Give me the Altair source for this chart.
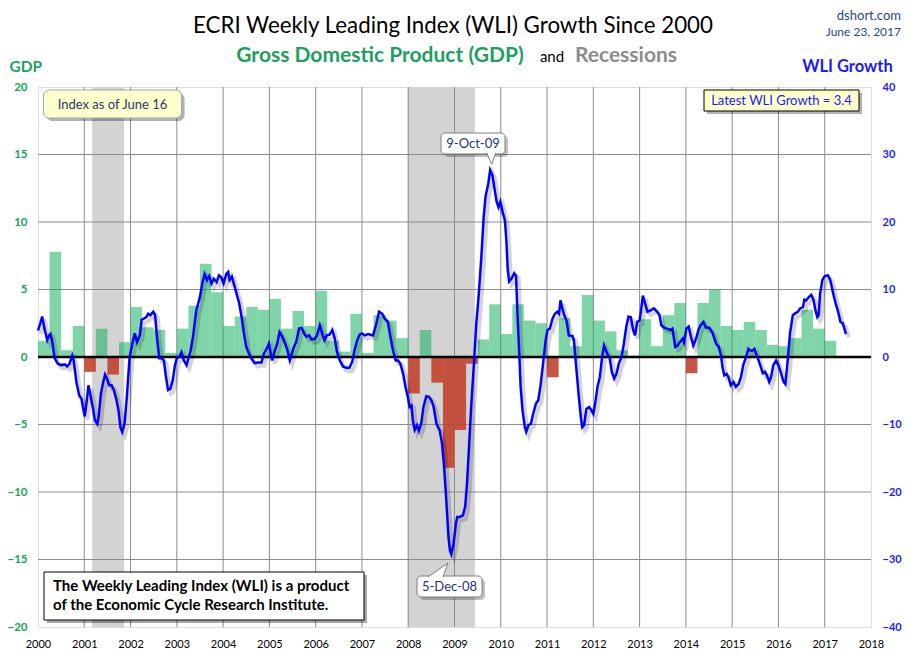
import altair as alt
import pandas as pd

FONT = "Lato"

# ---------------- data ----------------
# Quarterly real GDP growth (annualised %), 2000Q1 .. 2017Q1
gdp_growth = [
    1.2, 7.8, 0.5, 2.3,
    -1.1, 2.1, -1.3, 1.1,
    3.7, 2.2, 2.0, 0.3,
    2.1, 3.8, 6.9, 4.8,
    2.3, 3.0, 3.7, 3.5,
    4.3, 2.1, 3.4, 2.3,
    4.9, 1.2, 0.4, 3.2,
    0.3, 3.1, 2.7, 1.4,
    -2.7, 2.0, -1.9, -8.2,
    -5.4, -0.5, 1.3, 3.9,
    1.7, 3.9, 2.7, 2.5,
    -1.5, 2.9, 0.8, 4.6,
    2.7, 1.9, 0.5, 0.1,
    2.8, 0.8, 3.1, 4.0,
    -1.2, 4.0, 5.0, 2.3,
    2.0, 2.6, 2.0, 0.9,
    0.8, 1.4, 3.5, 2.1,
    1.2,
]
gdp_first_year = 2000

# ECRI WLI growth (decimal year, value)
wli_year = [
    2000.00, 2000.05, 2000.09, 2000.14, 2000.20, 2000.24, 2000.27, 2000.31, 2000.36, 2000.43,
    2000.50, 2000.58, 2000.63, 2000.68, 2000.74, 2000.77, 2000.83, 2000.89, 2000.94, 2000.97,
    2001.01, 2001.05, 2001.09, 2001.14, 2001.19, 2001.23, 2001.28, 2001.31, 2001.36, 2001.41,
    2001.45, 2001.49, 2001.54, 2001.59, 2001.64, 2001.69, 2001.74, 2001.78, 2001.82, 2001.87,
    2001.92, 2001.98, 2002.04, 2002.09, 2002.14, 2002.20, 2002.24, 2002.29, 2002.34, 2002.38,
    2002.43, 2002.49, 2002.53, 2002.57, 2002.62, 2002.67, 2002.72, 2002.76, 2002.81, 2002.86,
    2002.91, 2002.96, 2003.00, 2003.05, 2003.10, 2003.15, 2003.21, 2003.26, 2003.30, 2003.35,
    2003.42, 2003.50, 2003.55, 2003.60, 2003.65, 2003.70, 2003.75, 2003.80, 2003.86, 2003.91,
    2003.96, 2004.01, 2004.07, 2004.11, 2004.14, 2004.19, 2004.23, 2004.29, 2004.35, 2004.40,
    2004.45, 2004.50, 2004.56, 2004.61, 2004.68, 2004.76, 2004.83, 2004.88, 2004.94, 2004.99,
    2005.03, 2005.06, 2005.12, 2005.17, 2005.22, 2005.28, 2005.34, 2005.39, 2005.44, 2005.48,
    2005.53, 2005.58, 2005.64, 2005.70, 2005.75, 2005.80, 2005.86, 2005.91, 2005.98, 2006.03,
    2006.09, 2006.14, 2006.19, 2006.24, 2006.30, 2006.36, 2006.41, 2006.46, 2006.52, 2006.59,
    2006.66, 2006.73, 2006.79, 2006.84, 2006.90, 2006.95, 2007.00, 2007.06, 2007.13, 2007.24,
    2007.31, 2007.37, 2007.44, 2007.49, 2007.56, 2007.61, 2007.67, 2007.73, 2007.78, 2007.83,
    2007.89, 2007.94, 2007.99, 2008.03, 2008.07, 2008.10, 2008.14, 2008.19, 2008.23, 2008.28,
    2008.33, 2008.39, 2008.45, 2008.50, 2008.55, 2008.61, 2008.68, 2008.73, 2008.77, 2008.81,
    2008.84, 2008.87, 2008.90, 2008.93, 2008.98, 2009.03, 2009.06, 2009.11, 2009.18, 2009.23,
    2009.27, 2009.31, 2009.36, 2009.42, 2009.47, 2009.52, 2009.58, 2009.63, 2009.67, 2009.73,
    2009.77, 2009.82, 2009.87, 2009.91, 2009.95, 2009.99, 2010.04, 2010.09, 2010.12, 2010.15,
    2010.18, 2010.24, 2010.29, 2010.33, 2010.36, 2010.40, 2010.43, 2010.47, 2010.52, 2010.55,
    2010.60, 2010.65, 2010.70, 2010.76, 2010.81, 2010.86, 2010.91, 2010.97, 2011.01, 2011.06,
    2011.12, 2011.17, 2011.22, 2011.26, 2011.29, 2011.33, 2011.37, 2011.42, 2011.47, 2011.55,
    2011.58, 2011.63, 2011.68, 2011.73, 2011.76, 2011.80, 2011.85, 2011.91, 2011.96, 2012.00,
    2012.04, 2012.09, 2012.14, 2012.19, 2012.23, 2012.27, 2012.32, 2012.35, 2012.40, 2012.45,
    2012.50, 2012.55, 2012.61, 2012.66, 2012.71, 2012.76, 2012.81, 2012.86, 2012.90, 2012.95,
    2013.00, 2013.04, 2013.07, 2013.12, 2013.17, 2013.24, 2013.31, 2013.38, 2013.43, 2013.47,
    2013.52, 2013.59, 2013.67, 2013.71, 2013.77, 2013.82, 2013.87, 2013.93, 2013.96, 2014.01,
    2014.06, 2014.11, 2014.16, 2014.22, 2014.27, 2014.32, 2014.38, 2014.43, 2014.51, 2014.58,
    2014.65, 2014.71, 2014.76, 2014.79, 2014.83, 2014.88, 2014.92, 2014.97, 2015.03, 2015.08,
    2015.14, 2015.19, 2015.24, 2015.30, 2015.35, 2015.38, 2015.43, 2015.48, 2015.53, 2015.57,
    2015.62, 2015.66, 2015.71, 2015.75, 2015.80, 2015.84, 2015.89, 2015.95, 2016.00, 2016.06,
    2016.11, 2016.15, 2016.20, 2016.25, 2016.31, 2016.37, 2016.42, 2016.47, 2016.53, 2016.56,
    2016.60, 2016.66, 2016.71, 2016.76, 2016.80, 2016.84, 2016.87, 2016.90, 2016.95, 2017.00,
    2017.07, 2017.12, 2017.18, 2017.23, 2017.29, 2017.34, 2017.39, 2017.46,
]
wli_value = [
    3.9, 5.0, 6.0, 4.2, 2.5, 3.2, 3.4, 2.2, -0.2, -1.0,
    -1.2, -1.1, -1.4, -1.0, 0.2, -0.5, -3.7, -5.7, -6.2, -7.4,
    -8.8, -6.7, -4.2, -5.9, -7.7, -9.4, -9.9, -8.9, -5.4, -3.7,
    -2.6, -3.2, -4.2, -4.2, -4.9, -6.2, -7.9, -10.4, -11.1, -9.9,
    -5.9, 0.0, 2.0, 3.5, 2.2, 3.2, 5.5, 5.7, 5.9, 6.4,
    6.2, 6.7, 6.2, 3.0, -0.2, -0.2, -0.5, -2.7, -4.9, -4.7,
    -3.5, -1.2, -0.2, 0.0, 0.7, -0.5, -1.2, 0.0, 1.0, 3.0,
    6.9, 8.9, 10.9, 12.3, 11.4, 12.0, 10.9, 11.6, 11.1, 12.1,
    11.8, 10.9, 12.3, 12.6, 11.4, 11.9, 10.9, 9.4, 7.9, 5.9,
    3.5, 1.5, 0.5, -0.2, -0.9, -0.8, -0.8, 0.5, 1.2, 2.0,
    0.5, -0.5, 1.0, 2.0, 3.7, 3.0, 2.0, 1.0, -0.5, 0.4,
    1.5, 2.2, 4.2, 4.3, 3.5, 3.0, 3.2, 2.6, 2.7, 3.2,
    4.7, 3.5, 2.5, 3.2, 3.3, 4.0, 2.8, 0.8, -0.5, -1.4,
    -1.6, -1.6, -0.7, 1.0, 2.5, 3.3, 3.5, 3.2, 3.4, 3.2,
    4.9, 6.7, 6.4, 5.7, 5.2, 3.2, 1.0, -0.5, -0.5, -1.0,
    -2.5, -4.4, -5.9, -7.4, -7.2, -9.4, -10.8, -10.1, -10.9, -9.9,
    -7.4, -5.8, -5.9, -6.4, -7.4, -9.9, -10.9, -12.8, -15.8, -19.8,
    -23.2, -26.7, -28.6, -29.2, -27.7, -24.7, -23.7, -23.7, -23.5, -22.2,
    -18.8, -13.8, -7.4, -1.0, 4.9, 8.9, 14.8, 20.7, 23.7, 25.7,
    27.7, 26.9, 24.7, 23.0, 22.2, 23.0, 21.5, 20.2, 17.3, 13.0,
    11.2, 11.7, 12.4, 12.0, 6.5, 0.5, -4.5, -7.9, -10.4, -11.1,
    -10.1, -9.9, -8.4, -6.9, -6.4, -4.2, -1.2, 2.5, 4.0, 4.2,
    5.7, 6.4, 6.7, 6.4, 8.4, 7.2, 6.2, 5.4, 3.2, 3.1,
    2.5, -1.5, -5.4, -8.9, -10.4, -10.1, -7.7, -7.4, -7.9, -8.4,
    -6.9, -4.4, -3.0, 0.0, 1.7, 1.0, 0.2, 0.0, -2.2, -3.2,
    -2.5, -1.0, 0.0, 2.0, 4.4, 6.0, 5.9, 4.0, 3.2, 5.2,
    5.4, 7.4, 9.1, 7.9, 6.7, 6.9, 7.2, 6.7, 6.2, 4.7,
    4.4, 4.2, 4.0, 4.2, 1.5, 1.7, 2.2, 2.7, 2.2, 4.2,
    4.5, 3.0, 1.7, 2.7, 4.0, 4.7, 5.2, 4.4, 4.3, 3.5,
    2.0, 1.5, 0.2, -1.5, -2.7, -2.5, -3.0, -4.2, -3.7, -4.4,
    -4.0, -3.0, -1.2, 0.0, 1.2, 1.0, 0.9, 1.2, 0.2, -0.5,
    -1.5, -2.4, -2.2, -2.7, -3.7, -3.0, -1.2, -0.5, -1.2, -2.5,
    -3.7, -4.0, -0.5, 3.5, 6.2, 6.5, 6.7, 7.2, 7.4, 8.5,
    8.4, 8.9, 9.2, 8.4, 6.9, 5.9, 6.2, 9.4, 11.4, 12.0,
    12.1, 11.4, 9.5, 8.1, 6.7, 5.2, 5.0, 3.4,
]

# NBER recessions (decimal years)
rec_start = [2001.17, 2007.99]
rec_end = [2001.86, 2009.44]

# axis ticks
year_ticks = list(range(2000, 2019))
gdp_ticks = [-20, -15, -10, -5, 0, 5, 10, 15, 20]
wli_ticks = [-40, -30, -20, -10, 0, 10, 20, 30, 40]

# ---------------- tables ----------------
gdp_df = pd.DataFrame({"gdp": gdp_growth})
gdp_df["qstart"] = gdp_first_year + gdp_df.index * 0.25
gdp_df["qend"] = gdp_df["qstart"] + 0.25
wli_df = pd.DataFrame({"year": wli_year, "wli": wli_value})
rec_df = pd.DataFrame({"start": rec_start, "end": rec_end})
years_df = pd.DataFrame({"year": year_ticks})
gdpt_df = pd.DataFrame({"v": gdp_ticks})
one = pd.DataFrame({"k": [0]})

W, H = 833, 540
GRID = "#8c8c8c"
GREEN_TXT = "#1f9f5f"
TICK_GREEN = "#12a552"
BLUE = "#1a1aff"
NAVY = "#1f2f86"

xscale = alt.Scale(domain=[2000, 2018], nice=False, zero=False)
xaxis = alt.Axis(values=year_ticks, format="d", grid=False, ticks=False, domain=False,
                 labelFontSize=11, labelColor="#000000", labelPadding=11,
                 labelFlush=False, labelOverlap=False, title=None)
gdp_scale = alt.Scale(domain=[-20, 20], nice=False, zero=False)
gdp_axis = alt.Axis(orient="left", values=gdp_ticks, grid=False, ticks=False, domain=False,
                    labelColor=TICK_GREEN, labelFontWeight="bold", labelFontSize=11.5,
                    labelPadding=11, title=None)
wli_scale = alt.Scale(domain=[-40, 40], nice=False, zero=False)
wli_axis = alt.Axis(orient="right", values=wli_ticks, grid=False, ticks=False, domain=False,
                    labelColor=BLUE, labelFontWeight="bold", labelFontSize=11,
                    labelPadding=11, title=None)

X = lambda f: alt.X(f, scale=xscale, axis=xaxis)
YG = lambda f: alt.Y(f, scale=gdp_scale, axis=gdp_axis)
YW = lambda f: alt.Y(f, scale=wli_scale, axis=wli_axis)

# ---------------- GDP side ----------------
rec = alt.Chart(rec_df).mark_rect(color="#d3d3d3").encode(
    x=X("start:Q"), x2="end:Q", y=alt.value(0), y2=alt.value(H))
vgrid = alt.Chart(years_df).transform_filter(
    "datum.year > 2000 && datum.year < 2018").mark_rule(
    color=GRID, strokeWidth=1).encode(x=X("year:Q"))
hgrid = alt.Chart(gdpt_df).transform_filter(
    "datum.v != 0 && abs(datum.v) < 20").mark_rule(
    color=GRID, strokeWidth=1).encode(y=YG("v:Q"))
bars_pos = alt.Chart(gdp_df).transform_filter("datum.gdp >= 0").transform_calculate(
    base="0").mark_rect(color="#0bae58", opacity=0.52).encode(
    x=X("qstart:Q"), x2="qend:Q", y=YG("gdp:Q"), y2="base:Q")
bars_neg = alt.Chart(gdp_df).transform_filter("datum.gdp < 0").transform_calculate(
    base="0").mark_rect(color="#c2412c", opacity=0.9).encode(
    x=X("qstart:Q"), x2="qend:Q", y=YG("gdp:Q"), y2="base:Q")
zero = alt.Chart(gdpt_df).transform_filter("datum.v == 0").mark_rule(
    color="#000000", strokeWidth=2.6).encode(y=YG("v:Q"))
gdp_layer = alt.layer(rec, vgrid, hgrid, bars_pos, bars_neg, zero)

# ---------------- WLI side ----------------
shadow = alt.Chart(wli_df).transform_calculate(
    xs="datum.year + 0.06", ys="datum.wli - 0.5").mark_line(
    color="#000000", opacity=0.17, strokeWidth=4).encode(x=X("xs:Q"), y=YW("ys:Q"))
line = alt.Chart(wli_df).mark_line(color="#0000ff", strokeWidth=2.5).encode(
    x=X("year:Q"), y=YW("wli:Q"))
wli_layer = alt.layer(shadow, line)


# ---------------- annotations ----------------
def txt(s, x, y, size, color, weight="normal", align="center", baseline="middle"):
    return alt.Chart(one).mark_text(text=s, font=FONT, fontSize=size, color=color,
                                    fontWeight=weight, align=align, baseline=baseline
                                    ).encode(x=alt.value(x), y=alt.value(y))


def box(x1, y1, x2, y2, fill, stroke, radius=0, shadow_op=0.3):
    sh = alt.Chart(one).mark_rect(fill="#000000", opacity=shadow_op, cornerRadius=radius
                                  ).encode(x=alt.value(x1 + 3), x2=alt.value(x2 + 3),
                                           y=alt.value(y1 + 3), y2=alt.value(y2 + 3))
    bx = alt.Chart(one).mark_rect(fill=fill, stroke=stroke, strokeWidth=1, cornerRadius=radius
                                  ).encode(x=alt.value(x1), x2=alt.value(x2),
                                           y=alt.value(y1), y2=alt.value(y2))
    return [sh, bx]


def tail(path, x, y, size):
    return alt.Chart(one).mark_point(shape=path, size=size, filled=True, fill="#ffffff",
                                     stroke="#7f7f7f", strokeWidth=1, opacity=1
                                     ).encode(x=alt.value(x), y=alt.value(y))


annots = []
# titles
annots.append(txt("ECRI Weekly Leading Index (WLI) Growth Since 2000", 415, -54, 22.3,
                  "#000000", baseline="alphabetic"))
annots.append(txt("Gross Domestic Product (GDP)", 342, -25, 21, GREEN_TXT, "bold",
                  baseline="alphabetic"))
annots.append(txt("and", 514, -25, 15, "#000000", baseline="alphabetic"))
annots.append(txt("Recessions", 588, -25, 21, "#8c8c8c", "bold", baseline="alphabetic"))
annots.append(txt("dshort.com", 863, -67, 13, "#25478c", align="right", baseline="alphabetic"))
annots.append(txt("June 23, 2017", 863, -51, 12, "#25478c", align="right", baseline="alphabetic"))
annots.append(txt("GDP", -28.5, -15, 15.5, GREEN_TXT, "bold", align="left",
                  baseline="alphabetic"))
annots.append(txt("WLI Growth", 809.5, -15, 16.5, BLUE, "bold", baseline="alphabetic"))

# top-left box
annots += box(5.5, 3, 143.6, 31, "#ffffcc", "#8ea9c8", radius=6)
annots.append(txt("Index as of June 16", 74.5, 18, 13, "#1f3a6e"))
# top-right box
annots += box(666, 3, 821, 24, "#ffffcc", "#000000")
annots.append(txt("Latest WLI Growth = 3.4", 743.5, 13.5, 13, BLUE))
# bottom-left box
annots += box(6, 485, 326, 533, "#ffffff", "#000000", shadow_op=0.35)
annots.append(txt("The Weekly Leading Index (WLI) is a product", 15, 499, 15, "#000000",
                  "bold", align="left"))
annots.append(txt("of the Economic Cycle Research Institute.", 15, 518, 15, "#000000",
                  "bold", align="left"))
# peak callout
annots += box(403, 46, 467, 67, "#ffffff", "#7f7f7f", radius=4, shadow_op=0.25)
annots.append(tail("M -0.55 -0.95 L 0.28 0.97 L 0.95 -0.95", 452, 71.5, 144))
annots.append(txt("9-Oct-09", 435, 57, 13, NAVY))
# trough callout
annots += box(379, 489, 444, 510, "#ffffff", "#7f7f7f", radius=4, shadow_op=0.25)
annots.append(tail("M -0.83 0.62 L 0.83 -0.54 L 0.42 0.62", 400, 482.5, 576))
annots.append(txt("5-Dec-08", 411.5, 499.5, 13, NAVY))

chart = alt.layer(gdp_layer, wli_layer, *annots).resolve_scale(y="independent").properties(
    width=W, height=H,
    padding={"left": 30, "top": 79, "right": 31, "bottom": 26},
    autosize=alt.AutoSizeParams(type="none"),
).configure_view(stroke=GRID, strokeWidth=1).configure(font=FONT)

chart.save("out.html", embed_options={"renderer": "svg", "actions": False})
